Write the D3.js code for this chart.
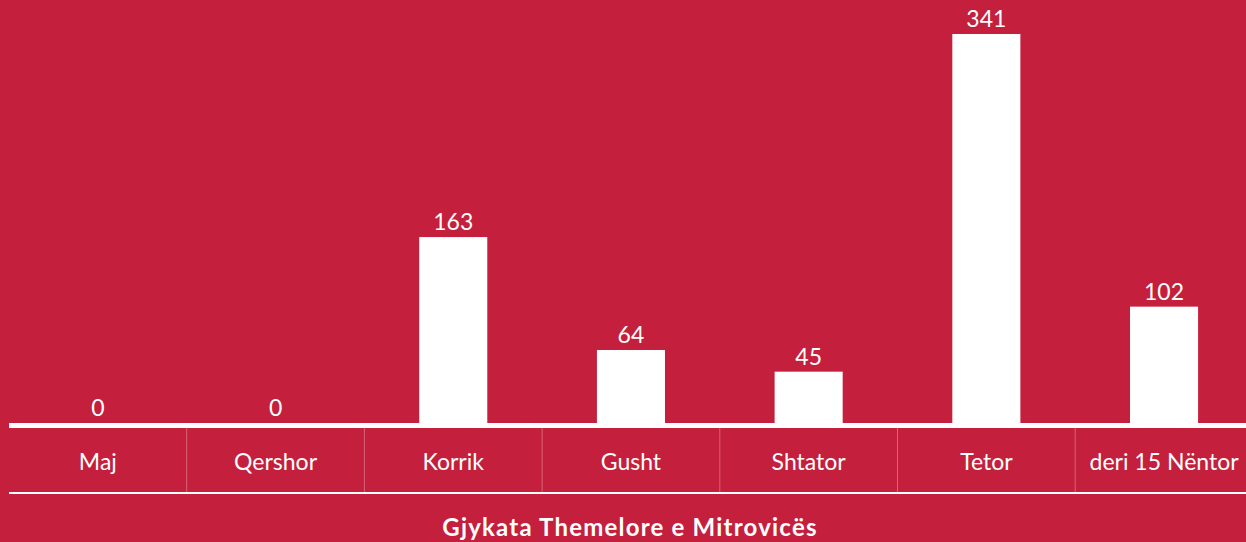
<!DOCTYPE html>
<html>
<head>
<meta charset="utf-8">
<script src="https://cdn.jsdelivr.net/npm/d3@7"></script>
<style>
  html, body { margin: 0; padding: 0; background: #c41f3c; overflow: hidden; }
  svg { display: block; }
</style>
</head>
<body>
<div id="chart"></div>
<script>
const months = ["Maj", "Qershor", "Korrik", "Gusht", "Shtator", "Tetor", "deri 15 Nëntor"];
const cases = [0, 0, 163, 64, 45, 341, 102];
const courtTitle = "Gjykata Themelore e Mitrovicës";

const width = 1246, height = 542;
const left = 9, step = 177.7;
const baseY = 423, topY = 34, lowerY = 493;

const svg = d3.select("#chart").append("svg")
    .attr("width", width)
    .attr("height", height);

svg.append("rect")
    .attr("width", width)
    .attr("height", height)
    .attr("fill", "#c41f3c");

const x = d3.scaleBand()
    .domain(months)
    .range([left, left + step * months.length])
    .paddingInner(0.617)
    .paddingOuter(0.3085);

const y = d3.scaleLinear()
    .domain([0, d3.max(cases)])
    .range([baseY, topY]);

// separators between categories
const bounds = d3.range(1, months.length).map(i => left + i * x.step());
svg.selectAll("line.sep")
    .data(bounds)
    .enter()
    .append("line")
    .attr("class", "sep")
    .attr("x1", d => d).attr("x2", d => d)
    .attr("y1", baseY).attr("y2", lowerY)
    .attr("stroke", "rgba(255,255,255,0.3)")
    .attr("stroke-width", 1);

// bars
svg.selectAll("rect.bar")
    .data(cases)
    .enter()
    .append("rect")
    .attr("class", "bar")
    .attr("x", (d, i) => x(months[i]))
    .attr("y", d => y(d))
    .attr("width", x.bandwidth())
    .attr("height", d => baseY - y(d))
    .attr("fill", "#ffffff");

// value labels
svg.selectAll("text.val")
    .data(cases)
    .enter()
    .append("text")
    .attr("class", "val")
    .attr("x", (d, i) => x(months[i]) + x.bandwidth() / 2)
    .attr("y", d => y(d) - 7)
    .attr("text-anchor", "middle")
    .attr("fill", "#ffffff")
    .attr("font-family", "Lato, sans-serif")
    .attr("font-size", "23px")
    .text(d => d);

// baseline
svg.append("line")
    .attr("x1", left).attr("x2", width)
    .attr("y1", baseY + 2.5).attr("y2", baseY + 2.5)
    .attr("stroke", "#ffffff")
    .attr("stroke-width", 5);

// lower rule
svg.append("line")
    .attr("x1", left).attr("x2", width)
    .attr("y1", lowerY).attr("y2", lowerY)
    .attr("stroke", "#ffffff")
    .attr("stroke-width", 2);

// category axis
const axis = svg.append("g")
    .attr("transform", `translate(0,${baseY})`)
    .call(d3.axisBottom(x).tickSize(0).tickPadding(0));
axis.select(".domain").remove();
axis.selectAll("text")
    .attr("y", 47)
    .attr("dy", null)
    .attr("fill", "#ffffff")
    .attr("font-family", "Lato, sans-serif")
    .attr("font-size", "23px");

// title
svg.append("text")
    .attr("x", 630)
    .attr("y", 536)
    .attr("text-anchor", "middle")
    .attr("fill", "#ffffff")
    .attr("font-family", "Lato, sans-serif")
    .attr("font-weight", "bold")
    .attr("font-size", "24px")
    .attr("letter-spacing", "1.2px")
    .text(courtTitle);
</script>
</body>
</html>
